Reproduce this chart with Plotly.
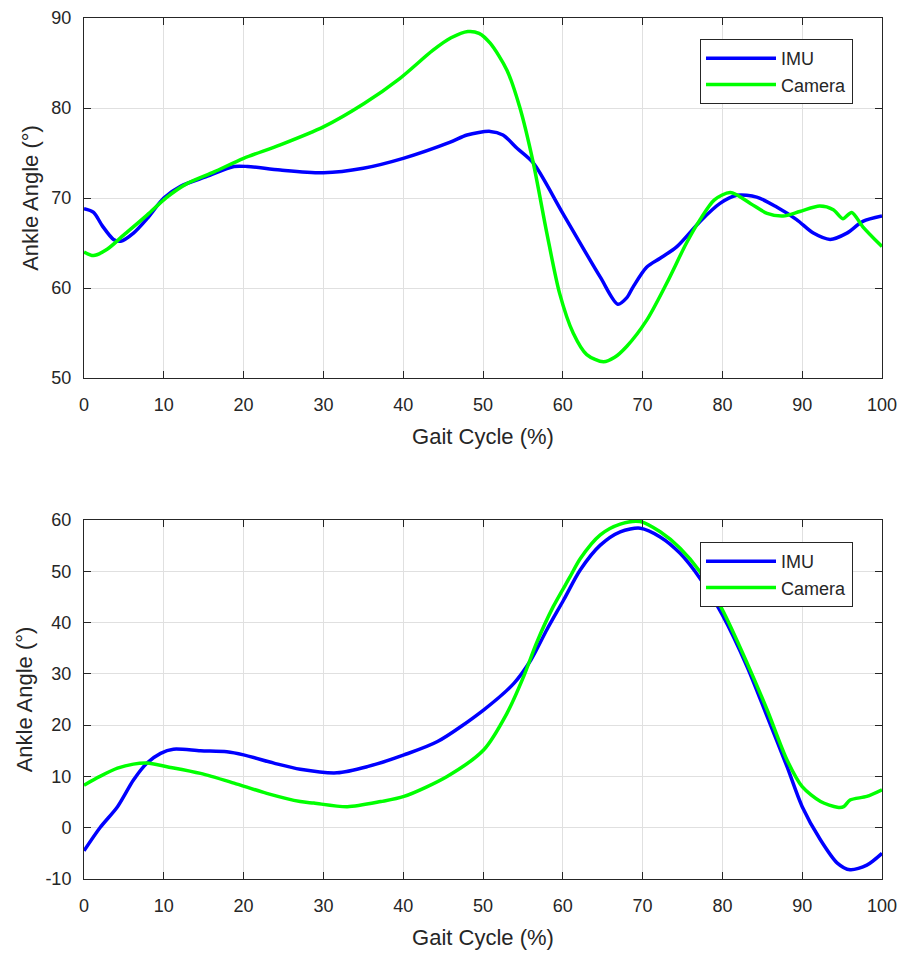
import plotly.graph_objects as go

# ---------------- data ----------------
top_imu_x = [0, 1.2, 2.3, 3.7, 4.6, 6.2, 7.9, 10, 12.1, 15.4, 18.8, 20.5, 24.6, 30, 35, 40, 45.9, 48, 50.9,
             52.5, 54.3, 56.3, 60, 64.7, 66.9, 68, 68.8, 70.5, 72.2, 74.3, 77.2, 79.7, 81.8, 84.3, 86.8,
             89.3, 91.4, 93.5, 95.6, 97.6, 100]
top_imu_y = [68.8, 68.4, 66.9, 65.4, 65.2, 66.1, 67.7, 70.0, 71.3, 72.4, 73.5, 73.5, 73.1, 72.8, 73.3, 74.4,
             76.2, 77.0, 77.4, 77.0, 75.5, 73.9, 68.3, 61.2, 58.2, 58.9, 60.1, 62.3, 63.3, 64.6, 67.4, 69.4,
             70.3, 70.1, 69.0, 67.6, 66.1, 65.4, 66.1, 67.4, 68.0]

top_cam_x = [0, 1.2, 2.9, 5, 7.9, 10.4, 12.9, 16.3, 20, 24.6, 30, 35.1, 39.6, 43.7, 46, 48.1, 49.5, 50.9,
             53, 54.6, 56.3, 58, 59.6, 61.3, 63, 65.1, 66.5, 68, 70.5, 73, 75.5, 77.2, 79, 81, 83.5, 85.6,
             87.6, 89.7, 92.2, 93.9, 95.1, 96.2, 97.6, 100]
top_cam_y = [64.0, 63.6, 64.3, 65.9, 68.1, 70.1, 71.6, 72.9, 74.4, 75.9, 77.9, 80.5, 83.3, 86.4, 87.8, 88.5,
             88.3, 87.2, 84.2, 80.1, 73.9, 66.1, 59.4, 55.0, 52.6, 51.8, 52.3, 53.5, 56.4, 60.5, 65.0, 67.6,
             69.8, 70.6, 69.4, 68.3, 68.0, 68.5, 69.1, 68.7, 67.7, 68.4, 66.8, 64.6]

bot_imu_x = [0, 2, 4.2, 6.2, 7.9, 9.6, 11.2, 14.6, 17.9, 20, 23.8, 27.1, 31.7, 35.5, 40.1, 44.3, 50.1, 53.9,
             56, 58, 60.1, 62.2, 64.7, 67.2, 69.7, 72.2, 74.7, 77.2, 80, 83.1, 85.6, 88.1, 90, 92.3, 94.4,
             96, 98.1, 100]
bot_imu_y = [-4.5, 0, 4.1, 9.3, 12.6, 14.5, 15.3, 15.0, 14.8, 14.2, 12.6, 11.4, 10.7, 11.9, 14.2, 16.8, 23.0,
             28.2, 32.7, 38.6, 44.4, 50.3, 55.1, 57.7, 58.4, 56.7, 53.5, 48.6, 41.5, 31.4, 21.7, 11.9, 4.1,
             -2.4, -6.9, -8.2, -7.3, -5.0]

bot_cam_x = [0, 2, 4.2, 6.2, 7.9, 10.4, 14.6, 18.8, 22.9, 27.1, 28.8, 33, 37.2, 40.1, 45.5, 50.1, 53, 55.1,
             56.7, 58.8, 60.9, 62.2, 64.7, 67.2, 69.7, 72.2, 74.7, 77.2, 80, 83.1, 85.6, 88.1, 90, 92.3,
             94.4, 95.2, 96, 98.1, 100]
bot_cam_y = [8.3, 10.0, 11.6, 12.4, 12.6, 11.9, 10.6, 8.7, 6.7, 5.1, 4.8, 4.1, 5.1, 6.1, 10.0, 15.2, 22.3,
             29.5, 36.0, 43.1, 48.9, 52.5, 57.1, 59.2, 59.7, 57.7, 54.5, 49.9, 42.5, 32.1, 23.0, 13.2, 8.0,
             5.1, 4.0, 4.1, 5.4, 6.1, 7.4]

series_names = ["IMU", "Camera"]
x_ticks = [0, 10, 20, 30, 40, 50, 60, 70, 80, 90, 100]
top_y_ticks = [50, 60, 70, 80, 90]
bot_y_ticks = [-10, 0, 10, 20, 30, 40, 50, 60]
x_title = "Gait Cycle (%)"
y_title = "Ankle Angle (°)"

# ---------------- figure ----------------
BLUE = "#0000FF"
GREEN = "#00FF00"
AX = "#262626"
GRID = "#e0e0e0"
FONT = "Liberation Sans, Arial, sans-serif"

fig = go.Figure()
line_kw = dict(mode="lines", line_shape="spline")
fig.add_trace(go.Scatter(x=top_imu_x, y=top_imu_y, name=series_names[0], line=dict(color=BLUE, width=3.5, smoothing=0.8),
                         xaxis="x", yaxis="y", legend="legend", **line_kw))
fig.add_trace(go.Scatter(x=top_cam_x, y=top_cam_y, name=series_names[1], line=dict(color=GREEN, width=3.5, smoothing=0.8),
                         xaxis="x", yaxis="y", legend="legend", **line_kw))
fig.add_trace(go.Scatter(x=bot_imu_x, y=bot_imu_y, name=series_names[0], line=dict(color=BLUE, width=3.5, smoothing=0.8),
                         xaxis="x2", yaxis="y2", legend="legend2", **line_kw))
fig.add_trace(go.Scatter(x=bot_cam_x, y=bot_cam_y, name=series_names[1], line=dict(color=GREEN, width=3.5, smoothing=0.8),
                         xaxis="x2", yaxis="y2", legend="legend2", **line_kw))

W, H = 904, 954
ML, MR, MT, MB = 84, 22, 18, 75
ph = H - MT - MB
top_dom = [(879 - 378) / ph, 1.0]
bot_dom = [0.0, (879 - 520) / ph]

def xax(anchor):
    return dict(range=[0, 100], tickvals=x_ticks, ticktext=[str(v) for v in x_ticks],
                ticks="inside", ticklen=7, tickcolor=AX, showline=True, linecolor=AX, linewidth=1,
                mirror="ticks", showgrid=True, gridcolor=GRID, gridwidth=1, zeroline=False,
                tickfont=dict(family=FONT, size=18, color=AX), ticklabelstandoff=10,
                title=dict(text=x_title, font=dict(family=FONT, size=22, color=AX), standoff=15),
                automargin=False, anchor=anchor, domain=[0, 1])

def yax(anchor, dom, rng, ticks):
    return dict(range=rng, tickvals=ticks, ticktext=[str(v) for v in ticks],
                ticks="inside", ticklen=7, tickcolor=AX, showline=True, linecolor=AX, linewidth=1,
                mirror="ticks", showgrid=True, gridcolor=GRID, gridwidth=1, zeroline=False,
                tickfont=dict(family=FONT, size=18, color=AX), ticklabelstandoff=8,
                title=dict(text=y_title, font=dict(family=FONT, size=22, color=AX), standoff=6),
                automargin=False, anchor=anchor, domain=dom)

leg_common = dict(bgcolor="white", bordercolor=AX, borderwidth=1, xanchor="left", yanchor="top",
                  font=dict(family=FONT, size=18, color=AX), itemwidth=70, tracegroupgap=0,
                  itemclick=False, itemdoubleclick=False)

fig.update_layout(
    width=W, height=H,
    margin=dict(l=ML, r=MR, t=MT, b=MB, autoexpand=False),
    paper_bgcolor="white", plot_bgcolor="white",
    showlegend=True,
    xaxis=xax("y"),
    yaxis=yax("x", top_dom, [50, 90], top_y_ticks),
    xaxis2=xax("y2"),
    yaxis2=yax("x2", bot_dom, [-10, 60], bot_y_ticks),
    legend=dict(x=(700 - ML) / (W - ML - MR), y=(879 - 39) / ph, **leg_common),
    legend2=dict(x=(700 - ML) / (W - ML - MR), y=(879 - 542) / ph, **leg_common),
)

fig.write_html("out.html", config={"displayModeBar": False},
               post_script="document.body.style.margin='0';document.body.style.padding='0';")
